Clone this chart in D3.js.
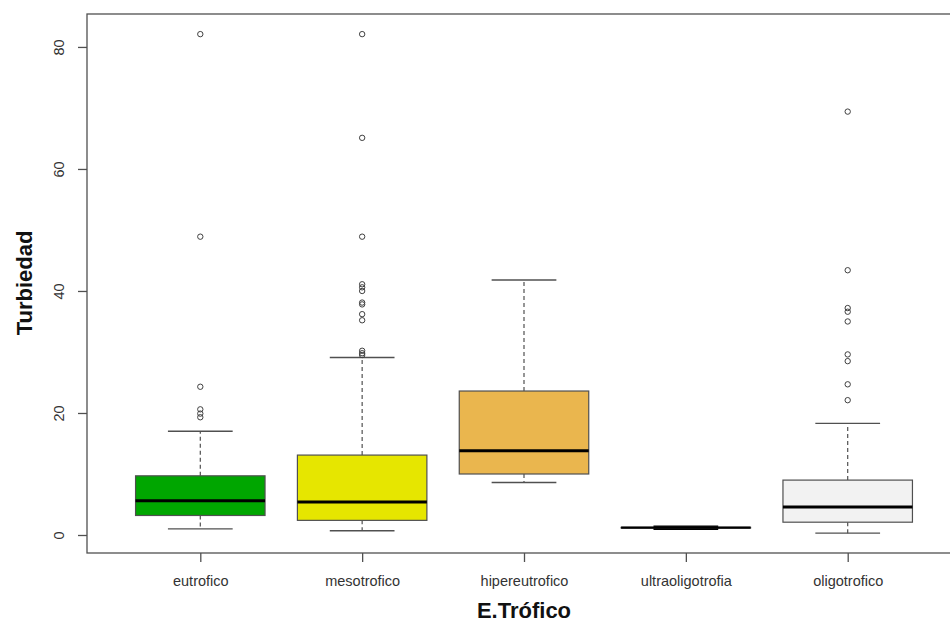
<!DOCTYPE html>
<html>
<head>
<meta charset="utf-8">
<script src="https://cdn.jsdelivr.net/npm/d3@7"></script>
<style>
  html, body { margin: 0; padding: 0; background: #ffffff; }
  svg { display: block; font-family: "Liberation Sans", Arial, sans-serif; }
</style>
</head>
<body>
<svg id="chart" width="950" height="623"></svg>
<script>
// Turbidity by trophic state: box statistics per group
const categories   = ["eutrofico", "mesotrofico", "hipereutrofico", "ultraoligotrofia", "oligotrofico"];
const fillColors   = ["#00A600", "#E6E600", "#EAB64E", "#EEB99F", "#F2F2F2"];
const whiskerLow   = [1.0, 0.7, 8.6, 1.0, 0.3];
const q1           = [3.2, 2.4, 10.0, 1.15, 2.1];
const median       = [5.6, 5.4, 13.8, 1.2, 4.6];
const q3           = [9.7, 13.1, 23.6, 1.25, 9.0];
const whiskerHigh  = [17.0, 29.1, 41.8, 1.4, 18.3];
const outliers = [
  [82.1, 48.9, 24.3, 20.6, 19.9, 19.3],
  [82.1, 65.1, 48.9, 41.1, 40.6, 40.0, 38.1, 37.8, 36.2, 35.2, 30.2, 29.8, 29.5],
  [],
  [],
  [69.4, 43.4, 37.2, 36.6, 35.0, 29.6, 28.5, 24.7, 22.1]
];
const yTicks = [0, 20, 40, 60, 80];
const xTitle = "E.Trófico";
const yTitle = "Turbiedad";

const plot = { left: 87, top: 14, right: 961, bottom: 553 };
const svg = d3.select("#chart");

// Category positions 1..n, with R-style padding around the groups
const x = d3.scaleLinear().domain([0.3, categories.length + 0.7]).range([plot.left, plot.right]);
const y = d3.scaleLinear().domain([-2.95, 85.4]).range([plot.bottom, plot.top]);

const unit = x(2) - x(1);
const boxW = 0.8 * unit;
const capW = 0.4 * unit;
const lineCol = "#505050";

const groups = categories.map((c, i) => ({
  name: c, pos: i + 1, fill: fillColors[i],
  lo: whiskerLow[i], q1: q1[i], med: median[i], q3: q3[i], hi: whiskerHigh[i],
  out: outliers[i]
}));

const g = svg.append("g");

const box = g.selectAll("g.box").data(groups).join("g").attr("class", "box");

// whiskers (dashed)
box.append("line")
  .attr("x1", d => x(d.pos)).attr("x2", d => x(d.pos))
  .attr("y1", d => y(d.q3)).attr("y2", d => y(d.hi))
  .attr("stroke", lineCol).attr("stroke-width", 1.2).attr("stroke-dasharray", "4,3");
box.append("line")
  .attr("x1", d => x(d.pos)).attr("x2", d => x(d.pos))
  .attr("y1", d => y(d.q1)).attr("y2", d => y(d.lo))
  .attr("stroke", lineCol).attr("stroke-width", 1.2).attr("stroke-dasharray", "4,3");

// staples
["lo", "hi"].forEach(k => {
  box.append("line")
    .attr("x1", d => x(d.pos) - capW / 2).attr("x2", d => x(d.pos) + capW / 2)
    .attr("y1", d => y(d[k])).attr("y2", d => y(d[k]))
    .attr("stroke", d => d.hi - d.lo < 1 ? "#000" : lineCol)
    .attr("stroke-width", d => d.hi - d.lo < 1 ? 2 : 1.4);
});

// boxes
box.append("rect")
  .attr("x", d => x(d.pos) - boxW / 2)
  .attr("width", boxW)
  .attr("y", d => y(d.q3))
  .attr("height", d => Math.max(0, y(d.q1) - y(d.q3)))
  .attr("fill", d => d.fill)
  .attr("stroke", lineCol).attr("stroke-width", 1.2);

// medians
box.append("line")
  .attr("x1", d => x(d.pos) - boxW / 2).attr("x2", d => x(d.pos) + boxW / 2)
  .attr("y1", d => y(d.med)).attr("y2", d => y(d.med))
  .attr("stroke", "#000").attr("stroke-width", d => d.q3 - d.q1 < 1 ? 2.2 : 3);

// outliers
box.selectAll("circle")
  .data(d => d.out.map(v => ({ pos: d.pos, v })))
  .join("circle")
  .attr("cx", d => x(d.pos)).attr("cy", d => y(d.v))
  .attr("r", 2.7)
  .attr("fill", "none").attr("stroke", "#404040").attr("stroke-width", 1);

// frame
svg.append("rect")
  .attr("x", plot.left).attr("y", plot.top)
  .attr("width", plot.right - plot.left).attr("height", plot.bottom - plot.top)
  .attr("fill", "none").attr("stroke", lineCol).attr("stroke-width", 1.3);

// y axis
const yAxis = svg.append("g")
  .attr("transform", `translate(${plot.left},0)`)
  .call(d3.axisLeft(y).tickValues(yTicks).tickSize(9).tickPadding(0).tickFormat(d3.format("d")));
yAxis.select(".domain").remove();
yAxis.selectAll(".tick line").attr("stroke", lineCol).attr("stroke-width", 1.3);
yAxis.selectAll(".tick text")
  .attr("transform", "rotate(-90)")
  .attr("x", 0).attr("y", -28)
  .attr("dy", "0.35em")
  .attr("text-anchor", "middle")
  .attr("fill", "#333")
  .style("font-size", "14.5px")
  .style("font-family", "'Liberation Sans', Arial, sans-serif");

// x axis
const xAxis = svg.append("g")
  .attr("transform", `translate(0,${plot.bottom})`)
  .call(d3.axisBottom(x).tickValues(groups.map(d => d.pos)).tickSize(9).tickPadding(0)
    .tickFormat(v => categories[v - 1]));
xAxis.select(".domain").remove();
xAxis.selectAll(".tick line").attr("stroke", lineCol).attr("stroke-width", 1.3);
xAxis.selectAll(".tick text")
  .attr("y", 28).attr("dy", "0.35em")
  .attr("fill", "#333")
  .style("font-size", "14.5px")
  .style("font-family", "'Liberation Sans', Arial, sans-serif");

// axis titles
svg.append("text")
  .attr("x", (x(1) + x(categories.length)) / 2).attr("y", 618)
  .attr("text-anchor", "middle")
  .style("font-size", "22px").style("font-weight", "bold")
  .attr("fill", "#111")
  .text(xTitle);

svg.append("text")
  .attr("transform", `translate(32,${(y(0) + y(80)) / 2 - 8}) rotate(-90)`)
  .attr("text-anchor", "middle")
  .style("font-size", "22px").style("font-weight", "bold")
  .attr("fill", "#111")
  .text(yTitle);
</script>
</body>
</html>
